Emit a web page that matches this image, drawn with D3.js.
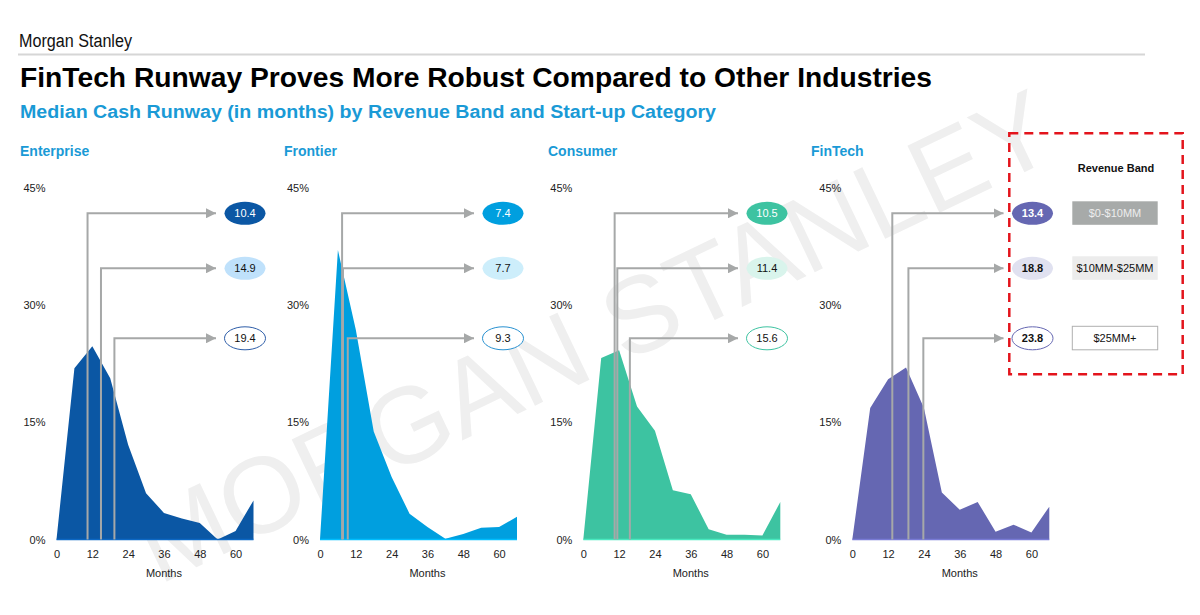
<!DOCTYPE html>
<html>
<head>
<meta charset="utf-8">
<script src="https://cdn.jsdelivr.net/npm/d3@7"></script>
<style>
  html, body { margin: 0; padding: 0; background: #fff; }
  svg { display: block; font-family: "Liberation Sans", Arial, sans-serif; }
</style>
</head>
<body>
<svg id="chart" width="1200" height="615"></svg>
<script>
// ---------------- DATA ----------------
const months = [0, 6, 12, 18, 24, 30, 36, 42, 48, 54, 60, 66];
const enterpriseShare = [0, 21.9, 24.7, 20.6, 12.1, 5.9, 3.4, 2.7, 2.1, 0, 1.1, 5.0];
const frontierShare   = [0, 37.0, 26.8, 13.8, 8.0, 3.3, 1.6, 0.1, 0.7, 1.5, 1.6, 2.9];
const consumerShare   = [0, 23.2, 24.2, 17.0, 13.9, 6.3, 5.8, 1.3, 0.6, 0.6, 0.5, 4.8];
const fintechShare    = [0, 16.8, 20.5, 22.0, 16.8, 6.0, 3.8, 4.8, 1.0, 1.9, 0.9, 4.2];

const enterpriseMedians = [10.4, 14.9, 19.4];
const frontierMedians   = [7.4, 7.7, 9.3];
const consumerMedians   = [10.5, 11.4, 15.6];
const fintechMedians    = [13.4, 18.8, 23.8];

const categories = ["Enterprise", "Frontier", "Consumer", "FinTech"];
const revenueBands = ["$0-$10MM", "$10MM-$25MM", "$25MM+"];
const yTicks = [0, 15, 30, 45];
const xTicks = [0, 12, 24, 36, 48, 60];

// ---------------- LAYOUT / STYLE ----------------
const svg = d3.select("#chart");
const FONT = '"Liberation Sans", Arial, sans-serif';
const BLUE_TXT = "#1a9ad6";
const GRAY = "#a6a8a8";

const panels = [
  { name: categories[0], values: enterpriseShare, medians: enterpriseMedians, titleX: 20, x0: 56.5, ellX: 245,
    area: "#0b57a4", fills: ["#0b57a4", "#bfe1fb", "#ffffff"], ring: "#2d5da8", bold: false },
  { name: categories[1], values: frontierShare, medians: frontierMedians, titleX: 284, x0: 320, ellX: 503,
    area: "#009fdf", fills: ["#009fdf", "#cdeefb", "#ffffff"], ring: "#2891d1", bold: false },
  { name: categories[2], values: consumerShare, medians: consumerMedians, titleX: 548, x0: 583.3, ellX: 767,
    area: "#3dc3a1", fills: ["#3dc3a1", "#d9f4ec", "#ffffff"], ring: "#3dc3a1", bold: false },
  { name: categories[3], values: fintechShare, medians: fintechMedians, titleX: 811, x0: 852.3, ellX: 1032.5,
    area: "#6567b2", fills: ["#6567b2", "#e0e1f0", "#ffffff"], ring: "#6567b2", bold: true }
];
const rowY = [213.3, 268.3, 338.3];   // rows of the median call-outs
const plotW = 197;                     // width for 0..66 months
const y = d3.scaleLinear().domain([0, 45]).range([539.5, 187.5]);

// ---------------- WATERMARK ----------------
svg.append("text")
  .attr("transform", "translate(594,336) rotate(-25.5)")
  .attr("text-anchor", "middle")
  .attr("dominant-baseline", "central")
  .attr("font-family", FONT)
  .attr("font-size", 108)
  .attr("fill", "#efefef")
  .text("MORGAN STANLEY");

// ---------------- HEADER ----------------
svg.append("text").attr("x", 19).attr("y", 46.5)
  .attr("font-family", FONT).attr("font-size", 18).attr("fill", "#111")
  .attr("textLength", 113).attr("lengthAdjust", "spacingAndGlyphs")
  .text("Morgan Stanley");
svg.append("line").attr("x1", 18).attr("x2", 1145).attr("y1", 54.5).attr("y2", 54.5)
  .attr("stroke", "#d6d6d6").attr("stroke-width", 2);
svg.append("text").attr("x", 20).attr("y", 86.5)
  .attr("font-family", FONT).attr("font-size", 27).attr("font-weight", "bold").attr("fill", "#000")
  .attr("textLength", 912).attr("lengthAdjust", "spacingAndGlyphs")
  .text("FinTech Runway Proves More Robust Compared to Other Industries");
svg.append("text").attr("x", 20).attr("y", 117.5)
  .attr("font-family", FONT).attr("font-size", 18).attr("font-weight", "bold").attr("fill", BLUE_TXT)
  .attr("textLength", 696).attr("lengthAdjust", "spacingAndGlyphs")
  .text("Median Cash Runway (in months) by Revenue Band and Start-up Category");

// arrow marker
svg.append("defs").append("marker")
  .attr("id", "arrow").attr("viewBox", "0 0 10 10").attr("refX", 10).attr("refY", 5)
  .attr("markerWidth", 10).attr("markerHeight", 10).attr("markerUnits", "userSpaceOnUse")
  .attr("orient", "auto")
  .append("path").attr("d", "M0,0 L10,5 L0,10 Z").attr("fill", GRAY);

// ---------------- PANELS ----------------
panels.forEach(p => {
  const g = svg.append("g");
  const x = d3.scaleLinear().domain([0, 66]).range([p.x0, p.x0 + plotW]);

  g.append("text").attr("x", p.titleX).attr("y", 155.5)
    .attr("font-family", FONT).attr("font-size", 14).attr("font-weight", "bold").attr("fill", BLUE_TXT)
    .text(p.name);

  const pts = months.map((m, i) => ({ m, v: p.values[i] }));
  const area = d3.area().x(d => x(d.m)).y0(y(0)).y1(d => y(d.v));
  g.append("path").datum(pts).attr("d", area).attr("fill", p.area);
  g.append("line").attr("x1", x(0)).attr("x2", x(66)).attr("y1", y(0)).attr("y2", y(0))
    .attr("stroke", d3.color(p.area).brighter(0.5)).attr("stroke-width", 1.5);

  // axes
  const ya = g.append("g").attr("transform", `translate(${p.x0},0)`)
    .call(d3.axisLeft(y).tickValues(yTicks).tickFormat(d => d + "%").tickSize(0).tickPadding(11));
  ya.select(".domain").remove();
  ya.selectAll("text").attr("font-family", FONT).attr("font-size", 11).attr("fill", "#222");

  const xa = g.append("g").attr("transform", `translate(0,${y(0)})`)
    .call(d3.axisBottom(x).tickValues(xTicks).tickSize(0).tickPadding(11));
  xa.select(".domain").remove();
  xa.selectAll("text").attr("font-family", FONT).attr("font-size", 11).attr("fill", "#222");

  g.append("text").attr("x", x(36)).attr("y", 576.7).attr("text-anchor", "middle")
    .attr("font-family", FONT).attr("font-size", 11).attr("fill", "#222").text("Months");

  // median call-outs
  p.medians.forEach((md, i) => {
    const mx = x(md);
    g.append("path")
      .attr("d", `M${mx},${y(0)} L${mx},${rowY[i]} L${p.ellX - 29},${rowY[i]}`)
      .attr("fill", "none").attr("stroke", GRAY).attr("stroke-width", 2)
      .attr("marker-end", "url(#arrow)");
    g.append("ellipse").attr("cx", p.ellX).attr("cy", rowY[i]).attr("rx", 20.5).attr("ry", 11.5)
      .attr("fill", p.fills[i])
      .attr("stroke", i === 2 ? p.ring : "none").attr("stroke-width", 1);
    g.append("text").attr("x", p.ellX).attr("y", rowY[i]).attr("dy", "0.36em")
      .attr("text-anchor", "middle").attr("font-family", FONT).attr("font-size", 11)
      .attr("font-weight", p.bold ? "bold" : "normal")
      .attr("fill", i === 0 ? "#fff" : "#111")
      .text(d3.format(".1f")(md));
  });
});

// ---------------- LEGEND ----------------
const lg = svg.append("g");
lg.append("rect").attr("x", 1009.3).attr("y", 133.3).attr("width", 173.4).attr("height", 241)
  .attr("fill", "none").attr("stroke", "#e3141c").attr("stroke-width", 2.5).attr("stroke-dasharray", "9,6");
lg.append("text").attr("x", 1116).attr("y", 171.5).attr("text-anchor", "middle")
  .attr("font-family", FONT).attr("font-size", 11).attr("font-weight", "bold").attr("fill", "#111")
  .text("Revenue Band");
const bandStyles = [
  { fill: "#a7aaa9", stroke: "none", text: "#ededed" },
  { fill: "#ececec", stroke: "none", text: "#111" },
  { fill: "#ffffff", stroke: "#b0b0b0", text: "#111" }
];
revenueBands.forEach((b, i) => {
  lg.append("rect").attr("x", 1072.3).attr("y", rowY[i] - 12).attr("width", 85.4).attr("height", 23.5)
    .attr("fill", bandStyles[i].fill).attr("stroke", bandStyles[i].stroke).attr("stroke-width", 1);
  lg.append("text").attr("x", 1115).attr("y", rowY[i]).attr("dy", "0.36em").attr("text-anchor", "middle")
    .attr("font-family", FONT).attr("font-size", 11).attr("fill", bandStyles[i].text).text(b);
});
</script>
</body>
</html>
